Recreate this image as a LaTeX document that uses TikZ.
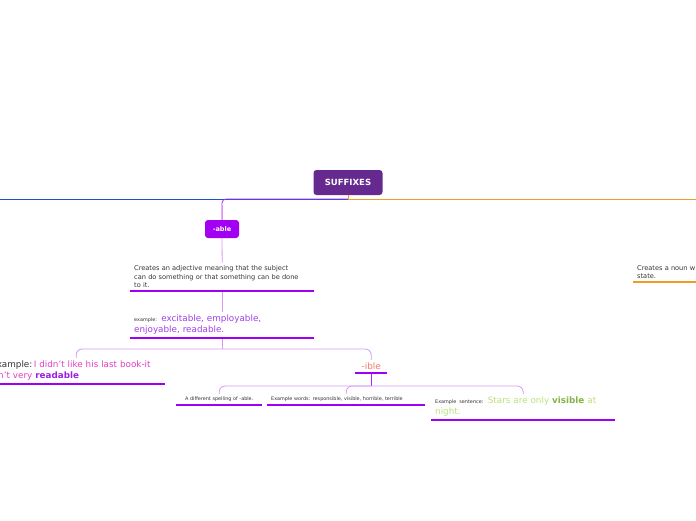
\documentclass[tikz,border=0pt]{standalone}
\usepackage{fontspec}
\setmainfont{DejaVu Sans}
\usepackage{tikz}
\usetikzlibrary{positioning}
\definecolor{rootpurple}{HTML}{65298F}
\definecolor{ablepurple}{HTML}{A100F2}
\definecolor{ulviolet}{HTML}{9F00F5}
\definecolor{softviolet}{HTML}{D69AF5}
\definecolor{mmblue}{HTML}{1E4FD6}
\definecolor{mmorange}{HTML}{F39B20}
\definecolor{textgray}{HTML}{333333}
\definecolor{exviolet}{HTML}{A040E8}
\definecolor{sentpink}{HTML}{E23FC4}
\definecolor{boldviolet}{HTML}{9A1FE6}
\definecolor{salmon}{HTML}{F07A6A}
\definecolor{limegreen}{HTML}{B9E07A}
\definecolor{darkgreen}{HTML}{84B443}
\tikzset{
	x=1pt, y=-1pt,
	root/.style ={rounded corners=3pt, fill=rootpurple, text=white, minimum width=69pt,
	 minimum height=25pt, font=\fontsize{8.5}{10}\selectfont\bfseries},
	branch/.style ={rounded corners=3pt, fill=ablepurple, text=white, minimum width=34pt,
	 minimum height=18pt, font=\fontsize{6.5}{8}\selectfont\bfseries},
	topic/.style = {anchor=south west, inner xsep=4pt, inner ysep=3pt, align=left,
	 text=textgray, font=\fontsize{6.6}{8.4}\selectfont},
	big/.style = {font=\fontsize{8.8}{11}\selectfont},
	tiny/.style = {font=\fontsize{4.9}{6}\selectfont},
	uline/.style = {line width=2.6pt, draw=ulviolet},
	soft line/.style = {line width=0.8pt, draw=softviolet},
	violet line/.style = {line width=0.8pt, draw=ulviolet!85},
}
\newcommand{\leadlabel}{\color{textgray}\fontsize{4.9}{6}\selectfont}

\begin{document}
\begin{tikzpicture}
	\useasboundingbox (0,0) rectangle (696,520);
	\clip (0,0) rectangle (696,520);
	\node (root) [root] at (348,182.5) {SUFFIXES};
	\node (able) [branch] at (222,229) {-able};
	\node (ableDef) [topic, text width=176pt] at (130,291)
		{Creates an adjective meaning that the subject\\can do something or that something can be done\\to it.};
	\node (ableEx) [topic, big, text width=176pt, text=exviolet] at (130,338)
		{{\leadlabel example:} excitable, employable,\\enjoyable, readable.};
	\node (ableSent) [topic, big, text width=170pt, text=sentpink] at (-13,384)
		{{\color{textgray}Example:}\,I didn't like his last book-it\\isn't very {\bfseries\color{boldviolet}readable}};
	\node (ible) [topic, big, text width=24pt, align=center, text=salmon] at (355,373) {-ible};
	\node (ibleDef) [topic, tiny, text width=78pt, align=center] at (176,405)
		{A different spelling of -able.};
	\node (ibleWords) [topic, tiny, text width=150pt] at (267,405)
		{Example words: responsible, visible, horrible, terrible};
	\node (ibleSent) [topic, big, text width=176pt, text=limegreen] at (431,420)
		{{\leadlabel Example sentence:} Stars are only {\bfseries\color{darkgreen}visible} at\\night.};
	\node (nounDef) [topic, text width=200pt] at (633,282)
		{Creates a noun w\\state.};
	% main line out of the root
	\coordinate (hub) at (348,199);
	\coordinate (westEnd) at (0,199);
	\coordinate (eastEnd) at (696,199);
	\draw[line width=0.8pt, mmblue] (hub) -- (westEnd);
	\draw[line width=0.8pt, mmorange] (root.south) -- (hub) -- (eastEnd);
	\draw[violet line, rounded corners=4pt] (hub) -| (able.north);
	\draw[soft line] ([yshift=14pt]able.north) -- (able.north);
	% -able branch
	\path (able.south) edge[soft line] (ableDef.north);
	\path (ableDef.south) edge[soft line] (ableEx.north);
	\draw[soft line] (ableEx.south) -- ++(0,11) coordinate (ableFork);
	\draw[soft line, rounded corners=6pt] (ableFork) -| (ableSent.north);
	\draw[soft line, rounded corners=6pt] (ableFork) -| (ible.north);
	% -ible branch
	\draw[violet line] (ible.south) -- ++(0,13) coordinate (ibleFork);
	\foreach \n in {ibleDef,ibleWords,ibleSent}
		\draw[soft line, rounded corners=6pt] (ibleFork) -| (\n.north);
	% underlines
	\foreach \n in {ableDef,ableEx,ableSent,ible,ibleDef,ibleWords,ibleSent}
		\draw[uline] (\n.south west) -- (\n.south east);
	\draw[uline, draw=mmorange] (nounDef.south west) -- (nounDef.south east);
\end{tikzpicture}
\end{document}
